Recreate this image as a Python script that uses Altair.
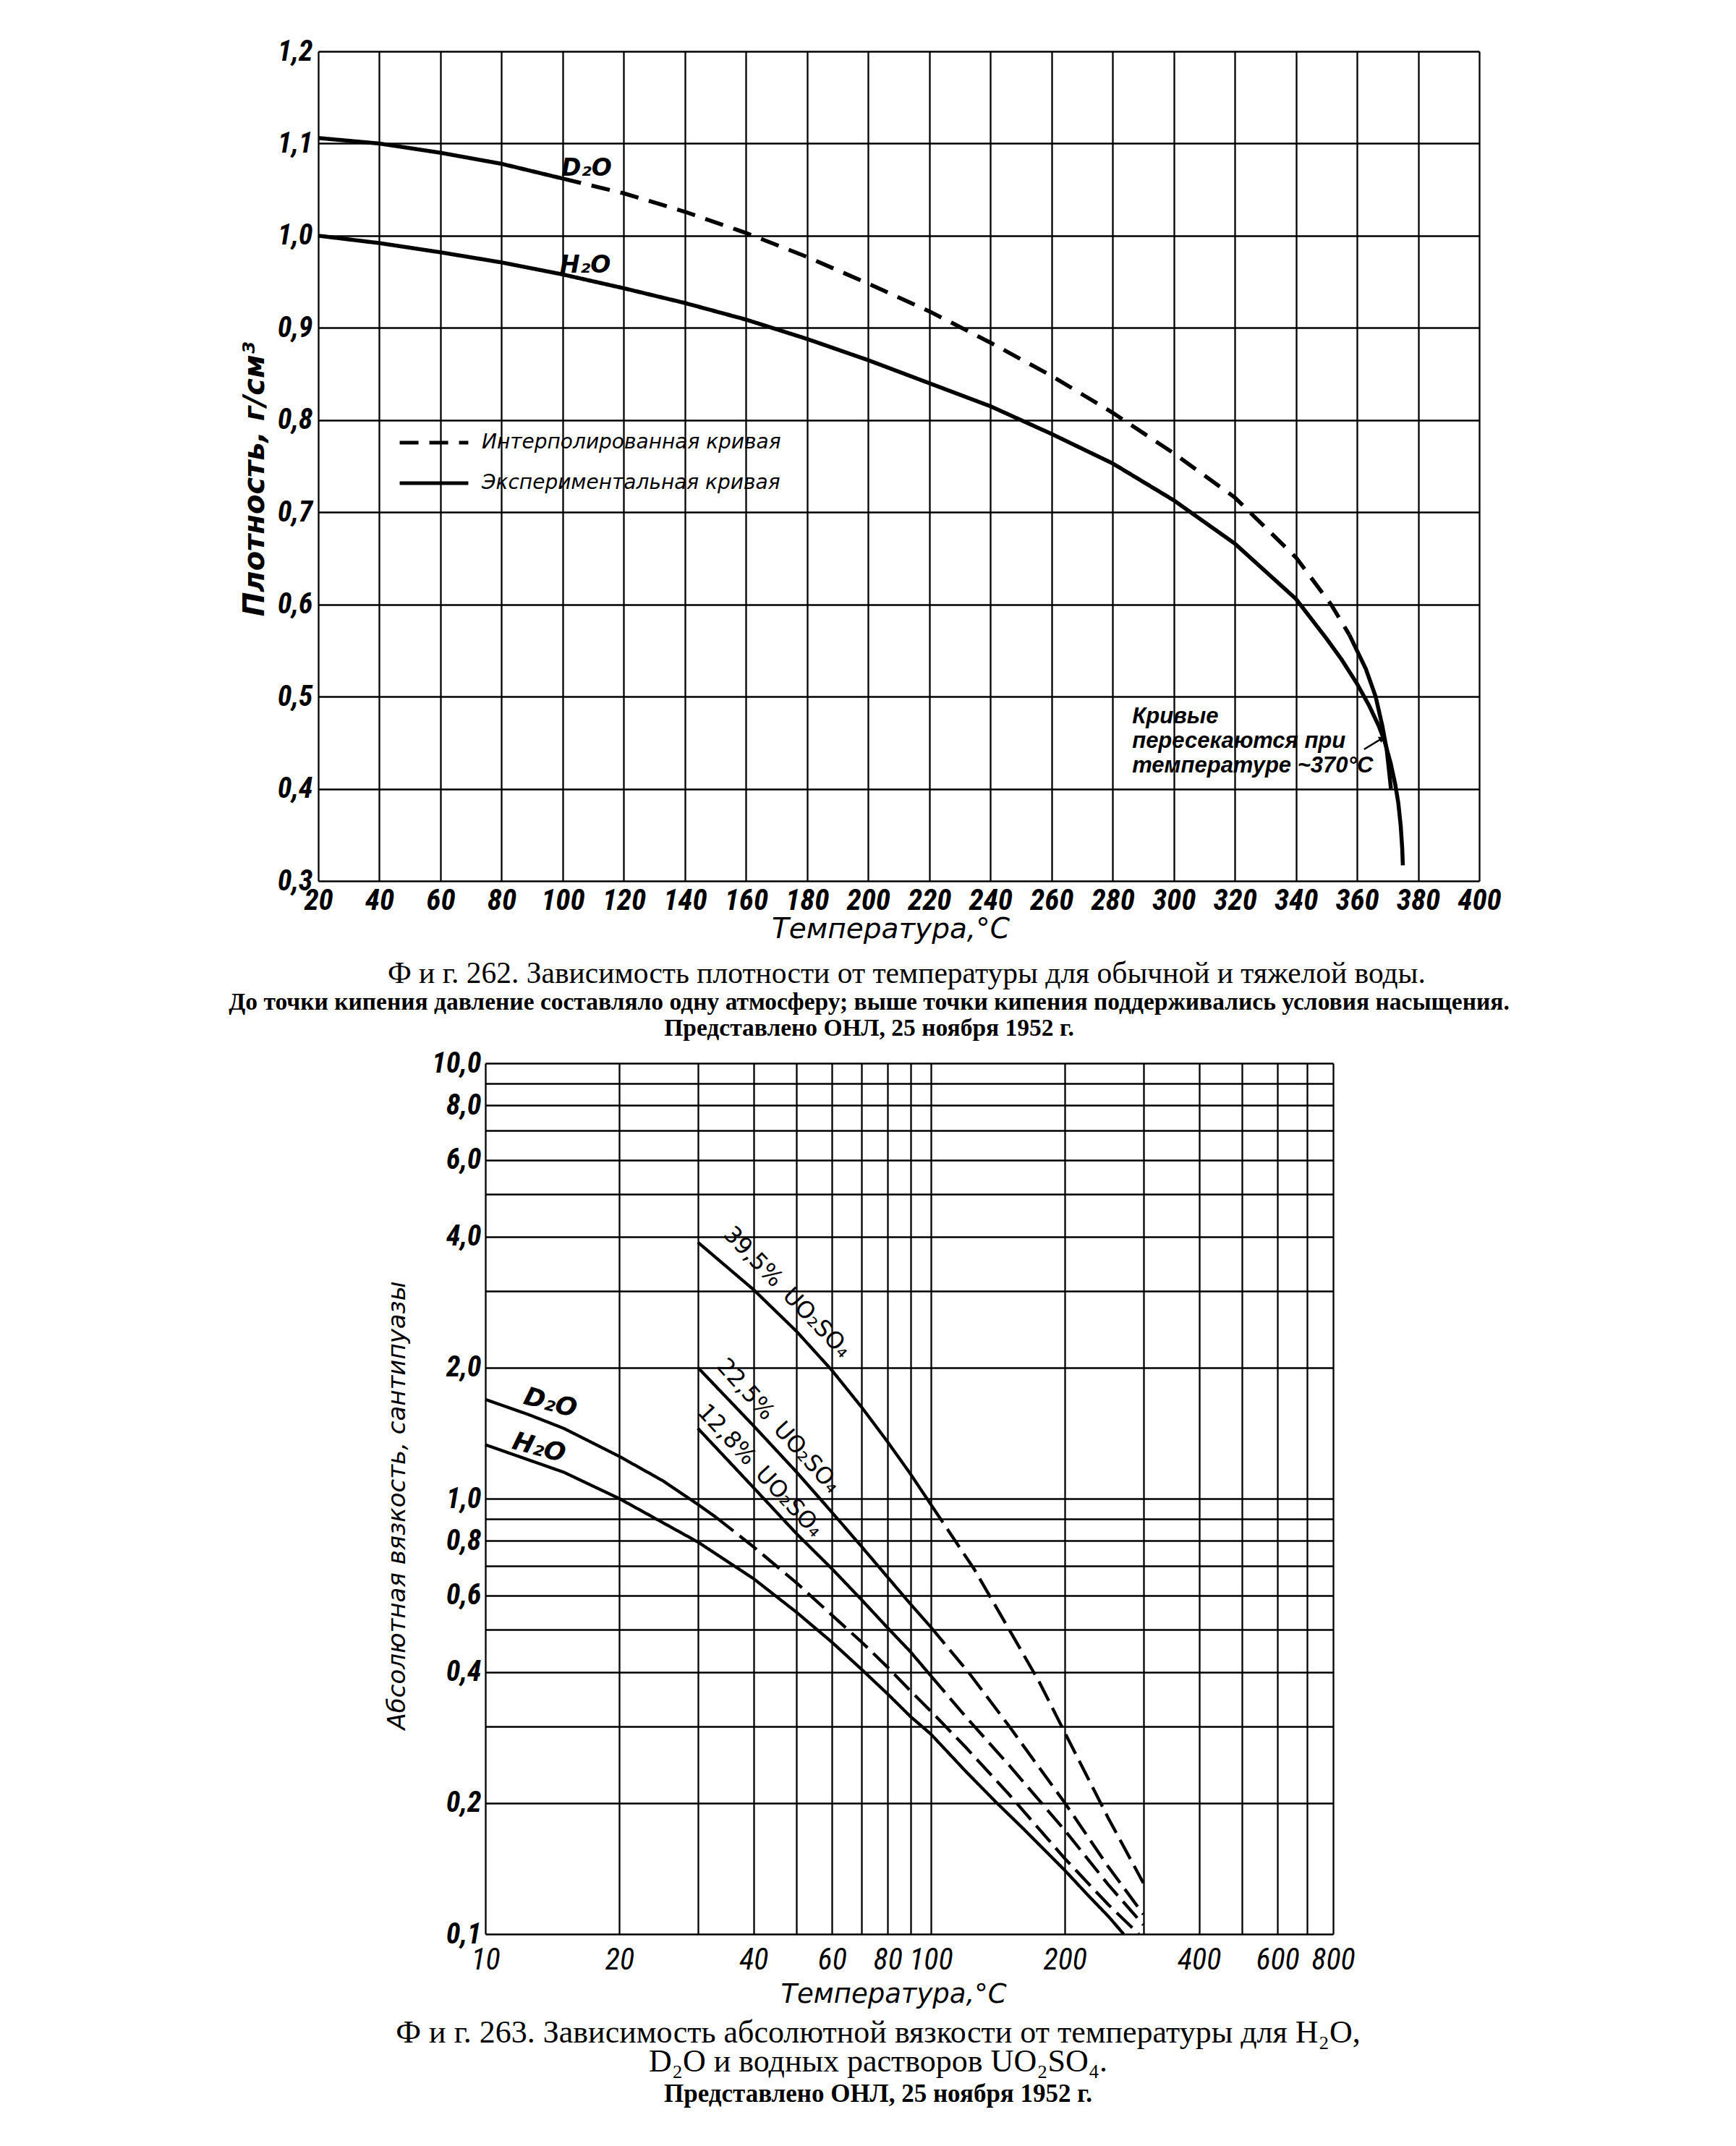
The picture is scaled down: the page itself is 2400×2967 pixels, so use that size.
import altair as alt
import pandas as pd

# ---------------- Fig. 262: density vs temperature ----------------
h2o_T = [20, 40, 60, 80, 100, 120, 140, 160, 180, 200, 220, 240, 260, 280, 300, 320, 340,
         350, 355, 360, 364, 367, 369, 371, 372.5, 373.5, 374.3, 374.8, 375]
h2o_rho = [1.000, 0.992, 0.982, 0.971, 0.958, 0.943, 0.927, 0.909, 0.888, 0.865, 0.840, 0.815,
           0.785, 0.753, 0.713, 0.666, 0.606, 0.563, 0.540, 0.514, 0.490, 0.469, 0.452, 0.428,
           0.405, 0.385, 0.360, 0.335, 0.317]

d2o_exp1_T = [20, 40, 60, 80, 100]
d2o_exp1_rho = [1.106, 1.100, 1.090, 1.078, 1.062]
d2o_int_T = [100, 120, 140, 160, 180, 200, 220, 240, 260, 280, 300, 320, 340, 351.5, 357.5]
d2o_int_rho = [1.062, 1.046, 1.026, 1.003, 0.977, 0.948, 0.918, 0.884, 0.848, 0.808, 0.764,
               0.716, 0.651, 0.600, 0.567]
d2o_exp2_T = [357.5, 362.9, 366.1, 368.3, 369.7, 370.6, 371.1]
d2o_exp2_rho = [0.567, 0.530, 0.500, 0.468, 0.443, 0.416, 0.400]

temp_ticks = [20, 40, 60, 80, 100, 120, 140, 160, 180, 200, 220, 240, 260, 280, 300, 320,
              340, 360, 380, 400]
dens_ticks = [0.3, 0.4, 0.5, 0.6, 0.7, 0.8, 0.9, 1.0, 1.1, 1.2]

top_label_T = [107.8, 107.4]
top_label_rho = [1.0725, 0.968]
top_label_text = ["D₂O", "H₂O"]

note_T = [286.4]
note_rho = [0.471]
note_text = ["Кривые\nпересекаются при\nтемпературе ~370°C"]

arrow_T = [362.3]
arrow_rho = [0.4428]
arrow_T2 = [368.2]
arrow_rho2 = [0.4547]

EXP = "Экспериментальная кривая"
INT = "Интерполированная кривая"

# ---------------- Fig. 263: viscosity vs temperature (log-log) ----------------
vh2o_T = [10, 15, 20, 30, 40, 50, 60, 70, 80, 90, 100, 120, 140, 160, 180, 200, 225, 250, 271]
vh2o_mu = [1.33, 1.15, 1.00, 0.795, 0.655, 0.548, 0.468, 0.405, 0.356, 0.316, 0.288, 0.236,
           0.201, 0.176, 0.156, 0.140, 0.123, 0.110, 0.100]

vd2o_sol_T = [10, 12.5, 15, 20, 25, 30, 33]
vd2o_sol_mu = [1.69, 1.56, 1.45, 1.25, 1.10, 0.97, 0.905]
vd2o_das_T = [33, 40, 50, 60, 70, 80, 90, 100, 120, 150, 200, 250, 293]
vd2o_das_mu = [0.905, 0.775, 0.64, 0.54, 0.468, 0.41, 0.362, 0.325, 0.268, 0.209, 0.149, 0.117, 0.100]

u128_sol_T = [30, 40, 50, 60, 70, 80, 90, 100]
u128_sol_mu = [1.45, 1.06, 0.83, 0.69, 0.585, 0.505, 0.445, 0.392]
u128_das_T = [100, 120, 150, 200, 250, 300]
u128_das_mu = [0.392, 0.315, 0.244, 0.173, 0.13, 0.105]

u225_sol_T = [30, 40, 50, 60, 70, 80, 90, 100]
u225_sol_mu = [2.0, 1.47, 1.15, 0.93, 0.775, 0.66, 0.573, 0.507]
u225_das_T = [100, 122, 150, 200, 250, 300]
u225_das_mu = [0.507, 0.397, 0.30, 0.20, 0.143, 0.111]

u395_sol_T = [30, 40, 50, 60, 70, 80, 90, 100]
u395_sol_mu = [3.88, 3.02, 2.42, 1.97, 1.62, 1.35, 1.14, 0.97]
u395_das_T = [100, 125, 150, 175, 200, 250, 300]
u395_das_mu = [0.97, 0.69, 0.50, 0.38, 0.29, 0.185, 0.131]

visc_T_ticks = [10, 20, 30, 40, 50, 60, 70, 80, 90, 100, 200, 300, 400, 500, 600, 700, 800]
visc_T_labels = [10, 20, 40, 60, 80, 100, 200, 400, 600, 800]
visc_mu_ticks = [0.1, 0.2, 0.3, 0.4, 0.5, 0.6, 0.7, 0.8, 0.9, 1, 2, 3, 4, 5, 6, 7, 8, 9, 10]
visc_mu_labels = [0.1, 0.2, 0.4, 0.6, 0.8, 1, 2, 4, 6, 8, 10]

water_lbl_T = [14.0, 13.2]
water_lbl_mu = [1.66, 1.31]
water_lbl_text = ["D₂O", "H₂O"]
water_lbl_angle = [15, 15]

salt_lbl_T = [47.6, 45.5, 41.4]
salt_lbl_mu = [2.98, 1.47, 1.16]
salt_lbl_text = ["39,5%\u2002UO₂SO₄", "22,5%\u2002UO₂SO₄", "12,8%\u2002UO₂SO₄"]
salt_lbl_angle = [46, 48, 47]

cap1_title = "\u200b\u2002\u2002\u2002\u2002\u2002Ф и г. 262. Зависимость плотности от температуры для обычной и тяжелой воды."
cap1_sub = ["До точки кипения давление составляло одну атмосферу; выше точки кипения поддерживались условия насыщения.",
            "Представлено ОНЛ, 25 ноября 1952 г."]
cap2_title = ["Ф и г. 263. Зависимость абсолютной вязкости от температуры для H₂O,",
              "D₂O и водных растворов UO₂SO₄."]
cap2_sub = "Представлено ОНЛ, 25 ноября 1952 г."

# ---------------- styling ----------------
FN = "Roboto Condensed, Liberation Sans Narrow, Roboto, sans-serif"
FT = "DejaVu Sans, sans-serif"
FNOTE = "Liberation Sans, Roboto, sans-serif"
FS = "Liberation Serif, DejaVu Serif, serif"
GRID_W = 2.3


def seg_rows(curve, kind, seg, T, vals, vname):
    return [{"T": t, vname: v, "curve": curve, "kind": kind, "seg": seg} for t, v in zip(T, vals)]


# ---------------- top chart ----------------
rows = []
rows += seg_rows("H₂O", EXP, "h2o", h2o_T, h2o_rho, "rho")
rows += seg_rows("D₂O", EXP, "d2o_a", d2o_exp1_T, d2o_exp1_rho, "rho")
rows += seg_rows("D₂O", INT, "d2o_b", d2o_int_T, d2o_int_rho, "rho")
rows += seg_rows("D₂O", EXP, "d2o_c", d2o_exp2_T, d2o_exp2_rho, "rho")
dens = pd.DataFrame(rows)

xs1 = alt.Scale(domain=[20, 400], nice=False, zero=False)
ys1 = alt.Scale(domain=[0.3, 1.2], nice=False, zero=False)

comma1 = "replace(format(datum.value, '.1f'), '.', ',')"

TOP_W, TOP_H = 1605, 1147

top_lines = alt.Chart(dens).mark_line(color="black", strokeWidth=5.5, strokeCap="butt").encode(
    x=alt.X("T:Q", scale=xs1, axis=alt.Axis(
        values=temp_ticks, title="Температура,°C", grid=True, gridColor="black",
        gridWidth=GRID_W, gridOpacity=1, domain=False, ticks=False, labelFont=FN,
        labelFontSize=41, labelFontStyle="italic", labelFontWeight="bold", labelColor="black",
        labelPadding=7, labelOverlap=False, labelFlush=False, titleFont=FT, titleFontSize=39,
        titleFontStyle="italic", titleFontWeight="normal", titleColor="black", titlePadding=0,
        titleX=791)),
    y=alt.Y("rho:Q", scale=ys1, axis=alt.Axis(
        values=dens_ticks, labelExpr=comma1, title="Плотность, г/см³", grid=True,
        gridColor="black", gridWidth=GRID_W, gridOpacity=1, domain=False, ticks=False,
        labelFont=FN, labelFontSize=40, labelFontStyle="italic", labelFontWeight="bold",
        labelColor="black", labelPadding=8, labelOverlap=False, labelFlush=False,
        titleFont=FT, titleFontSize=40, titleFontStyle="italic", titleFontWeight="bold",
        titleColor="black", titlePadding=11, titleY=591)),
    strokeDash=alt.StrokeDash("kind:N", scale=alt.Scale(domain=[INT, EXP], range=[[26, 15], [1, 0]]),
                              legend=alt.Legend(title=None, orient="none", legendX=110, legendY=513,
                                                symbolSize=9000, symbolStrokeWidth=5,
                                                symbolStrokeColor="black", labelFont=FT,
                                                labelFontSize=28, labelFontStyle="italic",
                                                labelColor="black", labelOffset=16,
                                                rowPadding=0, clipHeight=56, labelLimit=800)),
    detail="seg:N",
)

top_lbl_df = pd.DataFrame({"T": top_label_T, "rho": top_label_rho, "text": top_label_text})
top_lbls = alt.Chart(top_lbl_df).mark_text(font=FT, fontSize=33, fontStyle="italic",
                                           fontWeight="bold", color="black").encode(
    x=alt.X("T:Q", scale=xs1), y=alt.Y("rho:Q", scale=ys1), text="text:N")

note_df = pd.DataFrame({"T": note_T, "rho": note_rho, "text": note_text})
note = alt.Chart(note_df).mark_text(font=FNOTE, fontSize=31, fontStyle="italic", fontWeight="bold",
                                    color="black", align="left", baseline="alphabetic",
                                    lineBreak="\n", lineHeight=34).encode(
    x=alt.X("T:Q", scale=xs1), y=alt.Y("rho:Q", scale=ys1), text="text:N")

arrow_df = pd.DataFrame({"T": arrow_T, "rho": arrow_rho, "T2": arrow_T2, "rho2": arrow_rho2})
arrow = alt.Chart(arrow_df).mark_rule(color="black", strokeWidth=2.5).encode(
    x=alt.X("T:Q", scale=xs1), y=alt.Y("rho:Q", scale=ys1), x2="T2:Q", y2="rho2:Q")
arrow_head = alt.Chart(arrow_df).mark_point(shape="triangle-right", filled=True, color="black",
                                            size=90, angle=330, opacity=1).encode(
    x=alt.X("T2:Q", scale=xs1), y=alt.Y("rho2:Q", scale=ys1))

top = alt.layer(top_lines, top_lbls, note, arrow, arrow_head).properties(
    width=TOP_W, height=TOP_H,
    title=alt.TitleParams(text=cap1_title, subtitle=cap1_sub, orient="bottom", anchor="middle",
                          frame="group", dx=-41, offset=22, font=FS, fontSize=41.5,
                          fontWeight="normal", color="black", subtitleFont=FS,
                          subtitleFontSize=33.5, subtitleFontWeight="bold",
                          subtitleColor="black", subtitlePadding=2, subtitleLineHeight=36))

# ---------------- bottom chart ----------------
rows = []
rows += seg_rows("H₂O", "solid", "h2o", vh2o_T, vh2o_mu, "mu")
rows += seg_rows("D₂O", "solid", "d2o_s", vd2o_sol_T, vd2o_sol_mu, "mu")
rows += seg_rows("D₂O", "dashed", "d2o_d", vd2o_das_T, vd2o_das_mu, "mu")
rows += seg_rows("12,8%", "solid", "u128_s", u128_sol_T, u128_sol_mu, "mu")
rows += seg_rows("12,8%", "dashed", "u128_d", u128_das_T, u128_das_mu, "mu")
rows += seg_rows("22,5%", "solid", "u225_s", u225_sol_T, u225_sol_mu, "mu")
rows += seg_rows("22,5%", "dashed", "u225_d", u225_das_T, u225_das_mu, "mu")
rows += seg_rows("39,5%", "solid", "u395_s", u395_sol_T, u395_sol_mu, "mu")
rows += seg_rows("39,5%", "dashed", "u395_d", u395_das_T, u395_das_mu, "mu")
visc = pd.DataFrame(rows)

xs2 = alt.Scale(type="log", domain=[10, 800], nice=False)
ys2 = alt.Scale(type="log", domain=[0.1, 10], nice=False)

xlab2 = "indexof([10,20,40,60,80,100,200,400,600,800], datum.value) >= 0 ? format(datum.value, 'd') : ''"
ylab2 = ("indexof([0.1,0.2,0.4,0.6,0.8,1,2,4,6,8,10], datum.value) >= 0 ? "
         "replace(format(datum.value, '.1f'), '.', ',') : ''")

BOT_W, BOT_H = 1172, 1204

bot_lines = alt.Chart(visc).mark_line(color="black", strokeWidth=4.3, strokeCap="butt").encode(
    x=alt.X("T:Q", scale=xs2, axis=alt.Axis(
        values=visc_T_ticks, labelExpr=xlab2, title="Температура,°C", grid=True,
        gridColor="black", gridWidth=GRID_W, gridOpacity=1, domain=False, ticks=False,
        labelFont=FN, labelFontSize=42, labelFontStyle="italic", labelFontWeight="normal",
        labelColor="black", labelPadding=15, labelOverlap=False, labelFlush=False,
        titleFont=FT, titleFontSize=37, titleFontStyle="italic", titleFontWeight="normal",
        titleColor="black", titlePadding=9, titleX=564)),
    y=alt.Y("mu:Q", scale=ys2, axis=alt.Axis(
        values=visc_mu_ticks, labelExpr=ylab2, title="Абсолютная вязкость, сантипуазы",
        grid=True, gridColor="black", gridWidth=GRID_W, gridOpacity=1, domain=False,
        ticks=False, labelFont=FN, labelFontSize=40, labelFontStyle="italic",
        labelFontWeight="bold", labelColor="black", labelPadding=6, labelOverlap=False,
        labelFlush=False, titleFont=FT, titleFontSize=34, titleFontStyle="italic",
        titleFontWeight="normal", titleColor="black", titlePadding=30, titleY=611)),
    strokeDash=alt.StrokeDash("kind:N", scale=alt.Scale(domain=["dashed", "solid"],
                                                        range=[[30, 11], [1, 0]]), legend=None),
    detail="seg:N",
)

wl_df = pd.DataFrame({"T": water_lbl_T, "mu": water_lbl_mu, "text": water_lbl_text,
                      "angle": water_lbl_angle})
water_lbls = alt.Chart(wl_df).mark_text(font=FT, fontSize=35, fontStyle="italic",
                                        fontWeight="bold", color="black").encode(
    x=alt.X("T:Q", scale=xs2), y=alt.Y("mu:Q", scale=ys2), text="text:N",
    angle=alt.Angle("angle:Q", scale=None))

sl_df = pd.DataFrame({"T": salt_lbl_T, "mu": salt_lbl_mu, "text": salt_lbl_text,
                      "angle": salt_lbl_angle})
salt_lbls = alt.Chart(sl_df).mark_text(font=FT, fontSize=32, fontWeight="normal",
                                       color="black").encode(
    x=alt.X("T:Q", scale=xs2), y=alt.Y("mu:Q", scale=ys2), text="text:N",
    angle=alt.Angle("angle:Q", scale=None))

bottom = alt.layer(bot_lines, water_lbls, salt_lbls).properties(
    width=BOT_W, height=BOT_H,
    title=alt.TitleParams(text=cap2_title, subtitle=cap2_sub, orient="bottom", anchor="middle",
                          frame="group", dx=-43, offset=14, font=FS, fontSize=44,
                          fontWeight="normal", color="black", lineHeight=40, subtitleFont=FS,
                          subtitleFontSize=35, subtitleFontWeight="bold",
                          subtitleColor="black", subtitlePadding=5))

spacer = alt.Chart(pd.DataFrame({"s": [0]})).mark_point(opacity=0).encode(
    x=alt.value(0), y=alt.value(0)
).properties(width=231, height=10, view=alt.ViewBackground(strokeOpacity=0, strokeWidth=0))

bottom_row = alt.hconcat(spacer, bottom, spacing=0, bounds="flush")

chart = alt.vconcat(top, bottom_row, spacing=252, bounds="flush").resolve_scale(
    strokeDash="independent"
).properties(
    padding={"left": 307, "top": 42, "right": 10, "bottom": 10}
).configure_view(stroke="black", strokeWidth=3.5).configure(background="white")

chart.save("out.html", embed_options={"renderer": "svg", "actions": False})
